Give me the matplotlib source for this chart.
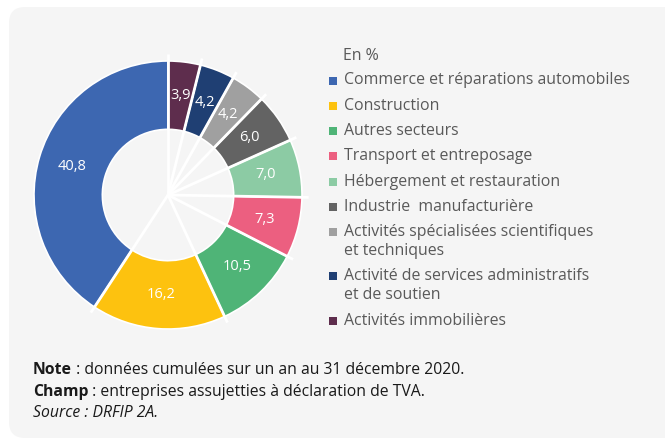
import numpy as np
import matplotlib
matplotlib.use("Agg")
import matplotlib.pyplot as plt
from matplotlib.patches import FancyBboxPatch, Rectangle

plt.rcParams['font.family'] = ['Open Sans', 'DejaVu Sans']

secteurs = ["Commerce et réparations automobiles", "Construction", "Autres secteurs",
            "Transport et entreposage", "Hébergement et restauration",
            "Industrie  manufacturière",
            "Activités spécialisées scientifiques\net techniques",
            "Activité de services administratifs\net de soutien",
            "Activités immobilières"]
parts = [40.8, 16.2, 10.5, 7.3, 7.0, 6.0, 4.2, 4.2, 3.9]
couleurs = ["#3d67b1", "#fdc20f", "#4fb477", "#ec5f80", "#8ccba4",
            "#636363", "#a0a0a0", "#1f3f73", "#5e2d4d"]

W, H = 665, 441
fig = plt.figure(figsize=(W / 100, H / 100), dpi=100)
fig.patch.set_facecolor("white")

# fond + textes en coordonnées pixel
bg = fig.add_axes([0, 0, 1, 1])
bg.set_xlim(0, W)
bg.set_ylim(H, 0)
bg.axis("off")
bg.add_patch(FancyBboxPatch((9, 7), 670, 431, boxstyle="round,pad=0,rounding_size=16",
                            facecolor="#f5f5f5", edgecolor="none"))

# donut
cx, cy, R = 168, 195, 134
half = 1.1 * R
ax = fig.add_axes([(cx - half) / W, (H - cy - half) / H, 2 * half / W, 2 * half / H])

wedges, _ = ax.pie(parts, colors=couleurs, startangle=90, counterclock=True, radius=1,
                   wedgeprops=dict(width=0.51, edgecolor="white", linewidth=1.2))
ax.set_xlim(-1.1, 1.1)
ax.set_ylim(-1.1, 1.1)
ax.set_aspect("equal")
ax.axis("off")

bornes = 90 + 360 * np.concatenate([[0], np.cumsum(parts)]) / sum(parts)
for a in np.radians(bornes[:-1]):
    ax.plot([0, 1.05 * np.cos(a)], [0, 1.05 * np.sin(a)], color="white", lw=2,
            solid_capstyle="butt", zorder=5)

for w, v in zip(wedges, parts):
    a = np.radians((w.theta1 + w.theta2) / 2)
    ax.text(0.745 * np.cos(a), 0.745 * np.sin(a), f"{v:.1f}".replace(".", ","),
            color="white", fontsize=10.5, ha="center", va="center", zorder=6)

# légende
gris = "#595959"
fs = 11.4
bg.text(343, 56, "En %", fontsize=fs, color=gris, va="center")
y = 80.5
for lab, c in zip(secteurs, couleurs):
    bg.add_patch(Rectangle((329, y - 4), 8, 8, facecolor=c, edgecolor="none"))
    lignes = lab.split("\n")
    for i, l in enumerate(lignes):
        bg.text(344, y + i * 19, l, fontsize=fs, color=gris, va="center")
    y += 25.3 + 18.8 * (len(lignes) - 1)

# notes
noir = "#1a1a1a"
fn = 11.3
t = bg.text(33, 370, "Note", fontsize=fn, weight="bold", color=noir, va="center")
bg.annotate(" : données cumulées sur un an au 31 décembre 2020.", xycoords=t,
            xy=(1, 0.5), va="center", fontsize=fn, color=noir)
t = bg.text(33, 392, "Champ", fontsize=fn, weight="bold", color=noir, va="center")
bg.annotate(" : entreprises assujetties à déclaration de TVA.", xycoords=t,
            xy=(1, 0.5), va="center", fontsize=fn, color=noir)
bg.text(33, 413, "Source : DRFIP 2A.", fontsize=fn, style="italic", color=noir, va="center")

fig.savefig("out.png", dpi=100)
